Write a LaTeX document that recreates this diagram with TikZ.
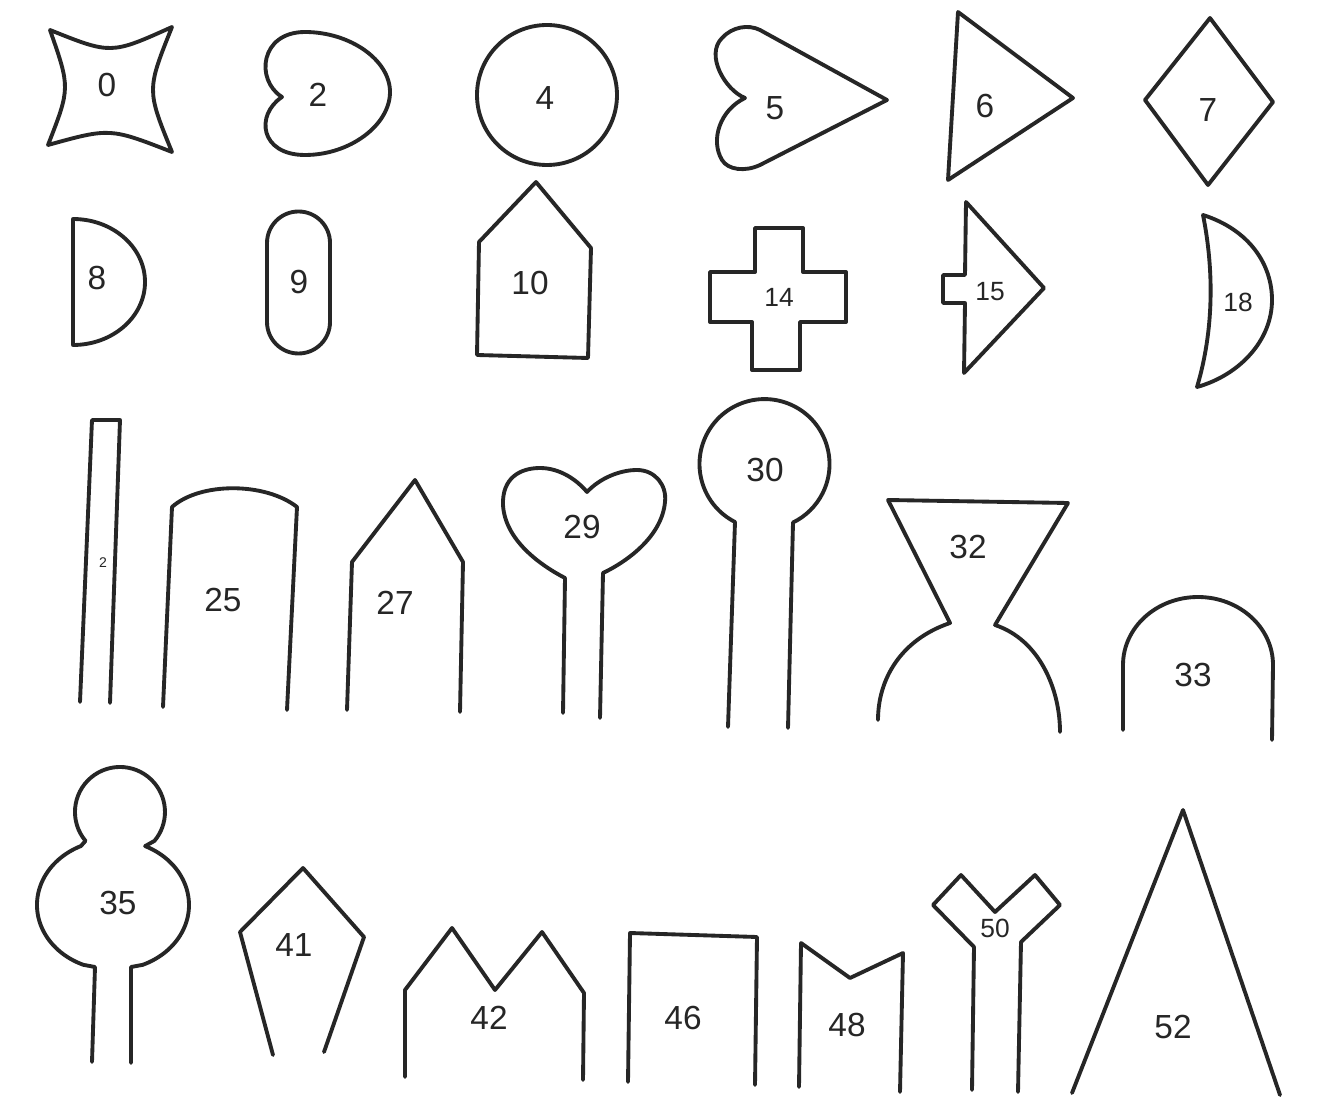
\documentclass[tikz,border=0pt]{standalone}
\usepackage{fontspec}
\setmainfont{Liberation Sans}
\begin{document}
\begin{tikzpicture}[x=0.02cm,y=-0.02cm,
  shp/.style={draw=black!85,line width=2.2pt,line join=round,line cap=round},
  lbl/.style={inner sep=0pt,font=\fontsize{19}{22}\selectfont,text=black!85},
  slbl/.style={inner sep=0pt,font=\fontsize{15}{18}\selectfont,text=black!85},
  tlbl/.style={inner sep=0pt,font=\fontsize{8}{9}\selectfont,text=black!85}]
\useasboundingbox[fill=white] (0,0) rectangle (1325,1104);

% ---- row 1 ----
% 0
\draw[shp] (50,30) .. controls (111,54.5) .. (172,27)
  .. controls (146.7,90) .. (172,152)
  .. controls (110,127.8) .. (48,145)
  .. controls (70.3,88) .. (50,30) -- cycle;
\node[lbl] (n0) at (107,85) {0};
% 2
\draw[shp] (282,97) .. controls (255,80) and (260,32) .. (305,32)
  .. controls (350,32) and (390,60) .. (390,92)
  .. controls (390,125) and (350,155) .. (305,155)
  .. controls (260,155) and (255,115) .. (282,97) -- cycle;
\node[lbl] (n2) at (318,95) {2};
% 4
\draw[shp] (547,95) circle[radius=70];
\node[lbl] (n4) at (545,98) {4};
% 5
\draw[shp] (745,98) .. controls (725,90) and (705,55) .. (722,38)
  .. controls (732,27) and (748,24) .. (760,30) -- (887,100) -- (760,165)
  .. controls (745,172) and (728,170) .. (722,160)
  .. controls (710,140) and (720,110) .. (745,98) -- cycle;
\node[lbl] (n5) at (775,108) {5};
% 6
\draw[shp] (958,12) -- (1073,98) -- (948,180) -- cycle;
\node[lbl] (n6) at (985,106) {6};
% 7
\draw[shp] (1210,18) -- (1273,102) -- (1208,185) -- (1145,100) -- cycle;
\node[lbl] (n7) at (1208,110) {7};

% ---- row 2 ----
% 8
\draw[shp] (73,219) arc[start angle=270, end angle=450, x radius=72, y radius=63] -- cycle;
\node[lbl] (n8) at (97,278) {8};
% 9
\draw[shp] (267,243) arc[start angle=180, end angle=360, radius=31.5] -- (330,322)
  arc[start angle=0, end angle=180, radius=31.5] -- cycle;
\node[lbl] (n9) at (299,282) {9};
% 10
\draw[shp] (477,355) -- (479,242) -- (536,182) -- (591,248) -- (588,358) -- cycle;
\node[lbl] (n10) at (530,283) {10};
% 14
\draw[shp] (755,228) -- (803,228) -- (803,272) -- (846,272) -- (846,322) -- (800,322)
  -- (800,370) -- (752,370) -- (752,322) -- (710,322) -- (710,272) -- (755,272) -- cycle;
\node[slbl] (n14) at (779,297) {14};
% 15
\draw[shp] (966,202) -- (1044,288) -- (964,373) -- (965,303) -- (943,303) -- (943,275) -- (965,275) -- cycle;
\node[slbl] (n15) at (990,292) {15};
% 18
\draw[shp] (1203,215) .. controls (1250,230) and (1272,265) .. (1272,300)
  .. controls (1272,340) and (1240,375) .. (1197,387)
  .. controls (1214,330) and (1214,270) .. (1203,215) -- cycle;
\node[slbl] (n18) at (1238,302) {18};

% ---- row 3 ----
% strip
\draw[shp] (80,702) -- (92,420) -- (120,420) -- (110,703);
\node[tlbl] (n22) at (103,563) {2};
% 25
\draw[shp] (163,707) -- (172,507) .. controls (200,482) and (265,482) .. (297,507) -- (287,710);
\node[lbl] (n25) at (223,600) {25};
% 27
\draw[shp] (347,710) -- (352,562) -- (415,480) -- (463,562) -- (460,712);
\node[lbl] (n27) at (395,603) {27};
% 29
\draw[shp] (563,713) -- (565,578) .. controls (540,565) and (505,540) .. (503,505)
  .. controls (502,478) and (520,468) .. (540,468)
  .. controls (560,468) and (577,480) .. (587,492)
  .. controls (600,478) and (620,470) .. (637,470)
  .. controls (655,470) and (667,485) .. (665,502)
  .. controls (662,535) and (630,560) .. (603,573) -- (600,718);
\node[lbl] (n29) at (582,527) {29};
% 30
\draw[shp] (728,727) -- (735,522) arc[start angle=117, end angle=424, radius=65] -- (788,728);
\node[lbl] (n30) at (765,470) {30};
% 32
\draw[shp] (878,720) .. controls (878,680) and (900,640) .. (950,623) -- (888,500)
  -- (1068,503) -- (995,625) .. controls (1040,640) and (1060,690) .. (1060,732);
\node[lbl] (n32) at (968,547) {32};
% 33
\draw[shp] (1123,730) -- (1123,665) arc[start angle=180, end angle=360, x radius=75, y radius=68] -- (1272,740);
\node[lbl] (n33) at (1193,675) {33};

% ---- row 4 ----
% 35
\draw[shp] (92,1062) -- (95,967) -- (83.3,964.8)
  arc[start angle=113, end angle=245, x radius=76, y radius=65] -- (85.5,840.9)
  arc[start angle=140, end angle=400, radius=45] -- (145.1,846.1)
  arc[start angle=295, end angle=427, x radius=76, y radius=65] -- (131,967) -- (131,1063);
\node[lbl] (n35) at (118,903) {35};
% 41
\draw[shp] (273,1055) -- (240,932) -- (303,868) -- (364,937) -- (324,1052);
\node[lbl] (n41) at (294,945) {41};
% 42
\draw[shp] (405,1077) -- (405,990) -- (452,928) -- (495,990) -- (542,932) -- (584,993) -- (583,1080);
\node[lbl] (n42) at (489,1018) {42};
% 46
\draw[shp] (628,1082) -- (630,933) -- (757,937) -- (755,1085);
\node[lbl] (n46) at (683,1018) {46};
% 48
\draw[shp] (799,1087) -- (801,943) -- (850,978) -- (903,953) -- (900,1092);
\node[lbl] (n48) at (847,1025) {48};
% 50
\draw[shp] (972,1090) -- (974,947) -- (933,905) -- (961,875) -- (995,912) -- (1035,875)
  -- (1060,905) -- (1021,942) -- (1018,1092);
\node[slbl] (n50) at (995,928) {50};
% 52
\draw[shp] (1072,1093) -- (1183,810) -- (1280,1095);
\node[lbl] (n52) at (1173,1027) {52};
\end{tikzpicture}
\end{document}
